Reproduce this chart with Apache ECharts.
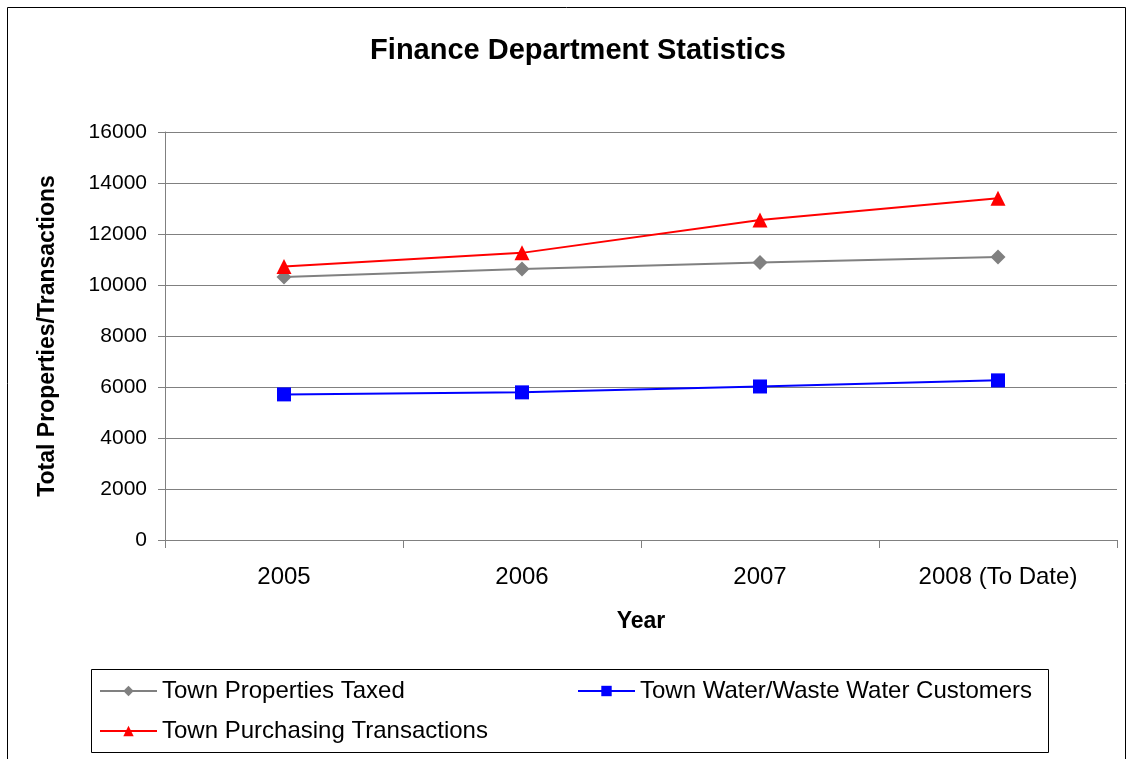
<!DOCTYPE html>
<html><head><meta charset="utf-8">
<script src="https://cdn.jsdelivr.net/npm/echarts@6/dist/echarts.min.js"></script>
<style>html,body{margin:0;padding:0;background:#fff}#c{width:1130px;height:759px}</style>
</head><body><div id="c"></div>
<script>
const categories = ['2005', '2006', '2007', '2008 (To Date)'];
const propertiesTaxed = [10310, 10630, 10880, 11100];
const waterCustomers = [5710, 5790, 6020, 6260];
const purchasingTransactions = [10730, 11260, 12550, 13400];
const seriesNames = ['Town Properties Taxed', 'Town Water/Waste Water Customers', 'Town Purchasing Transactions'];

const FONT = '"Liberation Sans", Arial, sans-serif';
const chart = echarts.init(document.getElementById('c'), null, {renderer: 'canvas'});
const legendText = {fontFamily: FONT, fontSize: 24, color: '#000'};
chart.setOption({
  animation: false,
  backgroundColor: '#fff',
  title: {
    text: 'Finance Department Statistics', left: 573, top: 31, textAlign: 'center',
    textStyle: {fontFamily: FONT, fontSize: 29, fontWeight: 'bold', color: '#000'}
  },
  graphic: [
    {type: 'rect', shape: {x: 7.5, y: 7.5, width: 1118, height: 800}, style: {fill: 'none', stroke: '#000', lineWidth: 1}, z: 0},
    {type: 'rect', shape: {x: 91.5, y: 669.5, width: 957, height: 83}, style: {fill: 'none', stroke: '#000', lineWidth: 1}, z: 0}
  ],
  grid: {left: 165, right: 13, top: 132, bottom: 219},
  legend: [
    {data: [seriesNames[0]], left: 94, top: 674, itemWidth: 57, itemHeight: 13, itemGap: 0, textStyle: legendText},
    {data: [seriesNames[1]], left: 572, top: 674, itemWidth: 57, itemHeight: 13, itemGap: 0, textStyle: legendText},
    {data: [seriesNames[2]], left: 94, top: 714, itemWidth: 57, itemHeight: 13, itemGap: 0, textStyle: legendText}
  ],
  xAxis: {
    type: 'category', data: categories, boundaryGap: true,
    name: 'Year', nameLocation: 'middle', nameGap: 70,
    nameTextStyle: {fontFamily: FONT, fontSize: 23, fontWeight: 'bold', color: '#000'},
    axisLine: {lineStyle: {color: '#808080', width: 1}},
    axisTick: {show: true, length: 8, lineStyle: {color: '#808080'}},
    axisLabel: {fontFamily: FONT, fontSize: 24, color: '#000', margin: 25}
  },
  yAxis: {
    type: 'value', min: 0, max: 16000, interval: 2000,
    name: 'Total Properties/Transactions', nameLocation: 'middle', nameGap: 106, nameRotate: 90,
    nameTextStyle: {fontFamily: FONT, fontSize: 23, fontWeight: 'bold', color: '#000'},
    axisLine: {show: true, lineStyle: {color: '#808080', width: 1}},
    axisTick: {show: true, length: 7, lineStyle: {color: '#808080'}},
    axisLabel: {fontFamily: FONT, fontSize: 21, color: '#000', margin: 18, formatter: v => String(v)},
    splitLine: {show: true, lineStyle: {color: '#808080', width: 1}}
  },
  series: [
    {name: seriesNames[0], type: 'line', data: propertiesTaxed, symbol: 'diamond', symbolSize: 15,
     itemStyle: {color: '#808080'}, lineStyle: {color: '#808080', width: 2}},
    {name: seriesNames[1], type: 'line', data: waterCustomers, symbol: 'rect', symbolSize: 14,
     itemStyle: {color: '#0000ff'}, lineStyle: {color: '#0000ff', width: 2}},
    {name: seriesNames[2], type: 'line', data: purchasingTransactions, symbol: 'triangle', symbolSize: 15,
     itemStyle: {color: '#ff0000'}, lineStyle: {color: '#ff0000', width: 2}}
  ]
});
</script></body></html>
